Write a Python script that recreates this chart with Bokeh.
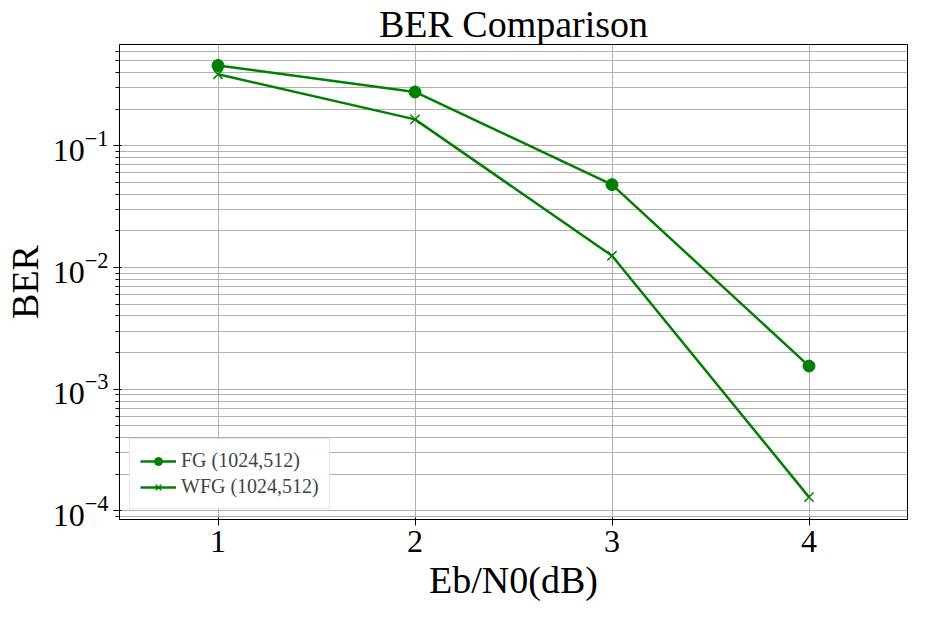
from bokeh.plotting import figure
from bokeh.models import Legend, LegendItem
from bokeh.embed import file_html
from bokeh.resources import INLINE

# Eb/N0 values and BER
ebn0 = [1, 2, 3, 4]
berFG = [0.457, 0.277, 0.048, 0.00155]
berWFG = [0.387, 0.165, 0.0125, 0.00013]

FONT = "Liberation Serif"
GREEN = "#008000"

p = figure(width=909, height=603, y_axis_type="log", x_range=(0.5, 4.5), y_range=(10**-4.07, 0.68),
           output_backend="svg", toolbar_location=None, title="BER Comparison",
           x_axis_label="Eb/N0(dB)", y_axis_label="BER")
p.min_border_left = 108
p.min_border_right = 2
p.title.align = "center"
p.title.text_font = FONT
p.title.text_font_size = "38px"
p.title.text_font_style = "normal"
p.title.text_color = "black"
p.title.standoff = 0
for ax in (p.xaxis[0], p.yaxis[0]):
    ax.axis_label_text_font = FONT
    ax.axis_label_text_font_size = "38px"
    ax.axis_label_text_font_style = "normal"
    ax.axis_label_text_color = "black"
    ax.major_label_text_font = FONT
    ax.major_label_text_font_size = "32px"
    ax.major_label_text_color = "black"
    ax.axis_line_color = "black"
    ax.axis_label_standoff = 4
p.xaxis.ticker = ebn0
p.xaxis.minor_tick_line_color = None
p.grid.grid_line_color = "#b0b0b0"
p.ygrid.minor_grid_line_color = "#b0b0b0"
p.outline_line_color = "black"

l1 = p.line(ebn0, berFG, color=GREEN, line_width=2.5)
s1 = p.scatter(ebn0, berFG, color=GREEN, size=12, marker="circle")
l2 = p.line(ebn0, berWFG, color=GREEN, line_width=2.5)
s2 = p.scatter(ebn0, berWFG, color=GREEN, size=13, marker="x", line_width=1.5)

legend = Legend(items=[LegendItem(label="FG (1024,512)", renderers=[l1, s1]),
                       LegendItem(label="WFG (1024,512)", renderers=[l2, s2])],
                location="bottom_left", label_text_font=FONT, label_text_font_size="20px",
                glyph_width=36, border_line_color="#cccccc", border_line_width=1)
p.add_layout(legend)

open("out.html", "w").write(file_html(p, INLINE))
